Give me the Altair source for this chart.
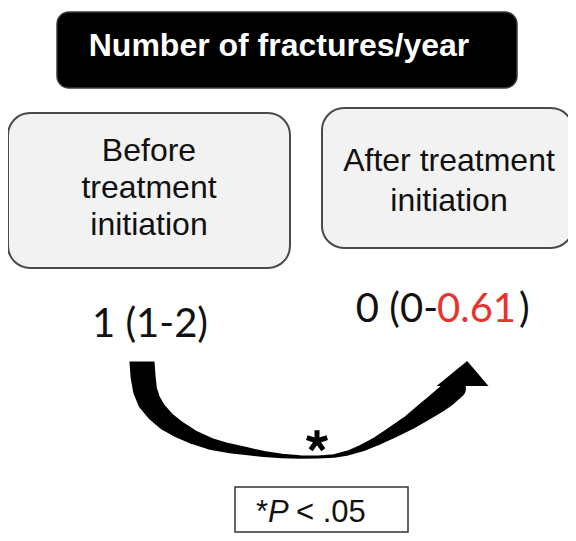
import altair as alt
import pandas as pd

# ---- content -------------------------------------------------------------
title_text = ["Number of fractures/year"]
before_lines = ["Before", "treatment", "initiation"]
after_lines = ["After treatment", "initiation"]
before_value = ["1 (1-2)"]
after_parts = ["0 (0-", "0.61", ")"]
after_colors = ["#111111", "#e8322b", "#111111"]
p_parts = ["*", "P", "< .05"]
p_styles = ["normal", "italic", "normal"]

# curved arrow centre line (page px) and its width along the way
arrow_x = [142, 143, 145, 149, 156, 166, 178, 193, 211, 228, 246, 264, 282, 300,
           318, 334, 348, 362, 377, 393, 410, 427, 437, 446, 455]
arrow_y = [362, 376, 390, 401, 411, 421, 429, 437, 444, 448, 451, 454, 456, 457,
           457, 456, 453, 448, 441, 432, 422, 410, 403, 396, 388]
arrow_w = [25, 25, 24, 23, 21, 19, 17, 14, 12, 10, 8, 6, 4.5, 3.5,
           3, 3.5, 5, 7, 9, 12, 15, 19, 21, 22, 22]

# ---- layout helpers --------------------------------------------------------
W, H = 560, 525
XS = alt.Scale(domain=[8, 568])
YS = alt.Scale(domain=[8, 533], reverse=True)


def enc_xy(**extra):
    d = dict(x=alt.X("x:Q", scale=XS, axis=None), y=alt.Y("y:Q", scale=YS, axis=None))
    d.update(extra)
    return d


def box(x1, x2, y1, y2, fill, stroke, sw, r):
    df = pd.DataFrame({"x": [x1], "x2": [x2], "y": [y1], "y2": [y2]})
    return alt.Chart(df).mark_rect(fill=fill, stroke=stroke, strokeWidth=sw,
                                   cornerRadius=r).encode(
        x=alt.X("x:Q", scale=XS, axis=None), x2="x2:Q",
        y=alt.Y("y:Q", scale=YS, axis=None), y2="y2:Q")


def text(rows, **props):
    df = pd.DataFrame(rows)
    return alt.Chart(df).mark_text(**props).encode(**enc_xy(text="t:N"))


SANS = "Liberation Sans"
NUM = "Lato"

layers = []
# title box
layers.append(box(57, 517, 12, 88, "#000000", "#3a3a3a", 1.5, 12))
layers.append(text({"x": [279], "y": [56], "t": title_text}, font=SANS, fontSize=32,
                   fontWeight="bold", color="white", align="center", baseline="alphabetic"))
# grey boxes
layers.append(box(8, 290, 113, 268, "#f2f2f2", "#4a4a4a", 2, 22))
layers.append(box(322, 573, 108, 248, "#f2f2f2", "#4a4a4a", 2, 22))
layers.append(text({"x": [149] * 3, "y": [161, 198, 235], "t": before_lines}, font=SANS,
                   fontSize=32, color="#111111", align="center", baseline="alphabetic"))
layers.append(text({"x": [449] * 2, "y": [171, 211], "t": after_lines}, font=SANS,
                   fontSize=32, color="#111111", align="center", baseline="alphabetic"))

# arrow body
arrow_df = pd.DataFrame({"x": arrow_x, "y": arrow_y, "w": arrow_w,
                         "i": list(range(len(arrow_x)))})
layers.append(alt.Chart(arrow_df).mark_trail(color="black").encode(
    **enc_xy(size=alt.Size("w:Q", scale=None, legend=None), order="i:Q")))
# flatten rounded start of the arrow
layers.append(box(124, 162, 347, 361.5, "white", "white", 0, 0))
# arrow head (base horizontal, tip leaning slightly right)
head_df = pd.DataFrame({"x": [462.5], "y": [386]})
layers.append(alt.Chart(head_df).mark_point(
    shape="M0.18,-0.96L1,0L-1,0Z", size=2700, filled=True, color="black", opacity=1
).encode(**enc_xy()))
# significance asterisk
star_df = pd.DataFrame({"x": [317], "y": [441]})
layers.append(alt.Chart(star_df).mark_point(
    shape="M0,0L0,-1M0,0L0.95,-0.31M0,0L0.59,0.81M0,0L-0.59,0.81M0,0L-0.95,-0.31",
    size=460, filled=False, stroke="black", strokeWidth=5, opacity=1,
    strokeCap="butt").encode(**enc_xy()))

# medians
layers.append(text({"x": [150], "y": [337], "t": before_value}, font=NUM, fontSize=40,
                   color="#111111", align="center", baseline="alphabetic"))
layers.append(text({"x": [438], "y": [322], "t": [after_parts[0]]}, font=NUM, fontSize=40,
                   color=after_colors[0], align="right", baseline="alphabetic"))
layers.append(text({"x": [437], "y": [322], "t": [after_parts[1]]}, font=NUM, fontSize=40,
                   color=after_colors[1], align="left", baseline="alphabetic"))
layers.append(text({"x": [519], "y": [322], "t": [after_parts[2]]}, font=NUM, fontSize=40,
                   color=after_colors[2], align="left", baseline="alphabetic"))

# p-value box
layers.append(box(235, 408, 487, 532, "white", "#333333", 1.5, 0))
layers.append(text({"x": [268], "y": [522], "t": [p_parts[0]]}, font=SANS, fontSize=31,
                   color="#111111", align="right", baseline="alphabetic"))
layers.append(text({"x": [268], "y": [522], "t": [p_parts[1]]}, font=SANS, fontSize=31,
                   fontStyle=p_styles[1], color="#111111", align="left", baseline="alphabetic"))
layers.append(text({"x": [296], "y": [522], "t": [p_parts[2]]}, font=SANS, fontSize=31,
                   color="#111111", align="left", baseline="alphabetic"))

chart = alt.layer(*layers).properties(
    width=W, height=H, padding=0, autosize=alt.AutoSizeParams(type="none"),
    background="white"
).configure_view(stroke=None)

chart.save("out.html", embed_options={"renderer": "svg", "actions": False})
